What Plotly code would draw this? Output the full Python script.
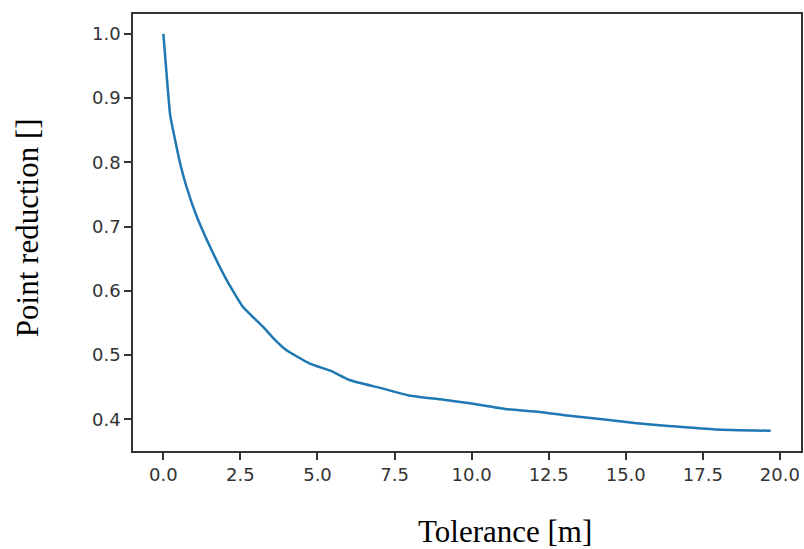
import plotly.graph_objects as go

tolerance = [0.0, 0.1, 0.22, 0.38, 0.54, 0.75, 1.08, 1.51, 2.05, 2.58, 2.8, 3.23,
             3.55, 3.95, 4.74, 5.49, 6.03, 7.1, 7.97, 9.15, 10.0, 11.09, 12.2,
             13.24, 14.32, 15.29, 16.3, 17.9, 19.7]
reduction = [1.0, 0.94, 0.874, 0.835, 0.799, 0.762, 0.716, 0.669, 0.617, 0.575,
             0.564, 0.544, 0.527, 0.509, 0.487, 0.474, 0.461, 0.448, 0.437, 0.430,
             0.4245, 0.416, 0.4114, 0.405, 0.3995, 0.394, 0.390, 0.384, 0.382]

x_title = "Tolerance [m]"
y_title = "Point reduction []"

fig = go.Figure()
fig.add_trace(go.Scatter(x=tolerance, y=reduction, mode="lines",
                         line=dict(color="#1f77b4", width=2.5, shape="spline", smoothing=0.5),
                         showlegend=False))

axis_common = dict(showline=True, linecolor="#333333", linewidth=1.5, mirror=True,
                   ticks="outside", ticklen=7, tickwidth=1.5, tickcolor="#333333",
                   showgrid=False, zeroline=False,
                   tickfont=dict(family="DejaVu Sans", size=18, color="#333333"))

fig.update_xaxes(range=[-0.985, 20.685], tick0=0, dtick=2.5, tickformat=".1f",
                 **axis_common)
fig.update_yaxes(range=[0.3505, 1.031], tick0=0, dtick=0.1, tickformat=".1f",
                 **axis_common)

fig.add_annotation(text=x_title, xref="paper", yref="paper", x=0.557, y=-0.184,
                   xanchor="center", yanchor="middle", showarrow=False,
                   font=dict(family="Liberation Serif", size=31, color="black"))
fig.add_annotation(text=y_title, xref="paper", yref="paper", x=-0.158, y=0.511,
                   xanchor="center", yanchor="middle", showarrow=False, textangle=-90,
                   font=dict(family="Liberation Serif", size=31, color="black"))

fig.update_layout(width=804, height=549, margin=dict(l=133, r=1, t=14, b=98),
                  plot_bgcolor="white", paper_bgcolor="white")

fig.write_html("out.html", config={"displayModeBar": False},
               post_script="document.body.style.margin='0';document.body.style.overflow='hidden';")
